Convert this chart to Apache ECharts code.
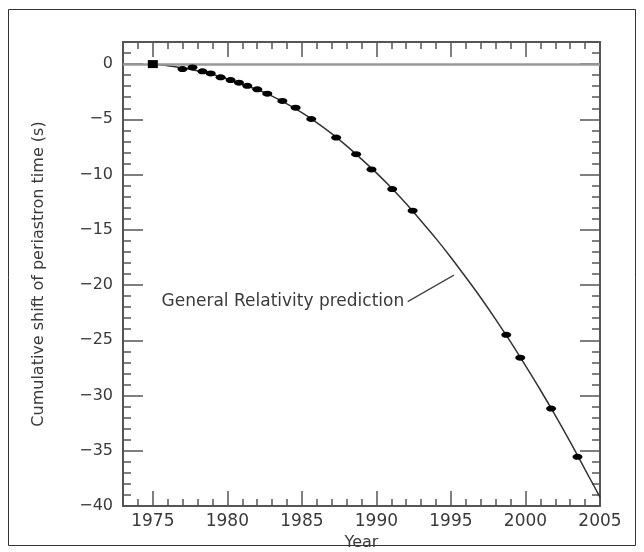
<!DOCTYPE html>
<html>
<head>
  <meta charset="UTF-8" />
  <title>Cumulative shift of periastron time</title>
  <script src="https://cdn.jsdelivr.net/npm/echarts@6/dist/echarts.min.js"></script>
  <style>
    html, body { margin: 0; padding: 0; background: #fff; }
    #chart { width: 644px; height: 552px; }
  </style>
</head>
<body>
  <div id="chart"></div>

  <script>
    // observed points (year, shift in s)
    const obsYears = [1975.0, 1976.99, 1977.66, 1978.33, 1978.88, 1979.55, 1980.22, 1980.78, 1981.34,
                      1982.01, 1982.68, 1983.69, 1984.58, 1985.63, 1987.30, 1988.64, 1989.67, 1991.06,
                      1992.43, 1998.71, 1999.65, 2001.72, 2003.49];
    const obsShift = [0.0, -0.45, -0.3, -0.65, -0.85, -1.2, -1.45, -1.68, -1.97,
                      -2.28, -2.68, -3.34, -3.95, -4.97, -6.65, -8.15, -9.54, -11.31,
                      -13.27, -24.5, -26.57, -31.18, -35.55];

    // General Relativity prediction curve, read at each year
    const curveYears = [1975, 1976, 1977, 1978, 1979, 1980, 1981, 1982, 1983, 1984, 1985, 1986, 1987, 1988,
                        1989, 1990, 1991, 1992, 1993, 1994, 1995, 1996, 1997, 1998, 1999, 2000, 2001, 2002,
                        2003, 2004, 2005];
    const curveShift = [0, -0.15, -0.35, -0.6, -0.95, -1.35, -1.85, -2.3, -2.9, -3.6, -4.4, -5.3, -6.3, -7.4,
                        -8.6, -9.85, -11.2, -12.65, -14.2, -15.8, -17.5, -19.3, -21.15, -23.1, -25.15, -27.3,
                        -29.5, -31.8, -34.2, -36.7, -39.2];

    // tick positions
    const xMajor = [1975, 1980, 1985, 1990, 1995, 2000, 2005];
    const xMinor = [];
    for (let y = 1974; y <= 2004; y++) xMinor.push(y);
    const yMajor = [0, -5, -10, -15, -20, -25, -30, -35, -40];
    const yMinor = [];
    for (let v = 1; v >= -39; v--) yMinor.push(v);

    const labelText = 'General Relativity prediction';

    const chart = echarts.init(document.getElementById('chart'));

    const axisColor = '#555';
    const textColor = '#3a3a3a';
    const font = 'DejaVu Sans';

    function xAx(pos, ticks, len, withLine, withLabel) {
      return {
        type: 'value', position: pos, min: 1973, max: 2005, gridIndex: 0,
        axisLine: { show: withLine, onZero: false, lineStyle: { color: axisColor, width: 2 } },
        axisTick: { show: true, inside: true, length: len, customValues: ticks, lineStyle: { color: axisColor, width: 1.5 } },
        axisLabel: withLabel ? {
          show: true, customValues: xMajor, margin: 7, color: textColor, fontFamily: font, fontSize: 17,
          formatter: v => String(v)
        } : { show: false },
        splitLine: { show: false },
        name: withLabel ? 'Year' : '',
        nameLocation: 'middle', nameGap: 22,
        nameTextStyle: { color: textColor, fontFamily: font, fontSize: 16 }
      };
    }

    function yAx(pos, ticks, len, withLine, withLabel) {
      return {
        type: 'value', position: pos, min: -40, max: 2, gridIndex: 0,
        axisLine: { show: withLine, onZero: false, lineStyle: { color: axisColor, width: 2 } },
        axisTick: { show: true, inside: true, length: len, customValues: ticks, lineStyle: { color: axisColor, width: 1.5 } },
        axisLabel: withLabel ? {
          show: true, customValues: yMajor, margin: 10, color: textColor, fontFamily: font, fontSize: 16,
          formatter: v => (v < 0 ? '\u2212' + Math.abs(v) : String(v))
        } : { show: false },
        splitLine: { show: false },
        name: withLabel ? 'Cumulative shift of periastron time (s)' : '',
        nameLocation: 'middle', nameGap: 76, nameRotate: 90,
        nameTextStyle: { color: textColor, fontFamily: font, fontSize: 16 }
      };
    }

    chart.setOption({
      animation: false,
      backgroundColor: '#fff',
      grid: { left: 123, right: 44, top: 42, bottom: 46, outerBoundsMode: 'none' },
      xAxis: [
        xAx('bottom', xMajor, 15, true, true),
        xAx('bottom', xMinor, 7, false, false),
        xAx('top', xMajor, 15, true, false),
        xAx('top', xMinor, 7, false, false)
      ],
      yAxis: [
        yAx('left', yMajor, 20, true, true),
        yAx('left', yMinor, 8, false, false),
        yAx('right', yMajor, 20, true, false),
        yAx('right', yMinor, 8, false, false)
      ],
      series: [
        {
          name: 'GR prediction',
          type: 'line',
          xAxisIndex: 0, yAxisIndex: 0,
          data: curveYears.map((y, i) => [y, curveShift[i]]),
          showSymbol: false,
          smooth: 0.3,
          lineStyle: { color: '#333', width: 1.5 },
          markLine: {
            silent: true, symbol: 'none', label: { show: false },
            lineStyle: { color: '#999', width: 2.5, type: 'solid' },
            data: [{ yAxis: 0 }]
          },
          z: 3
        },
        {
          name: 'pointer',
          type: 'line',
          xAxisIndex: 0, yAxisIndex: 0,
          data: [[1992.1, -21.5], [1995.2, -19.1]],
          showSymbol: false,
          lineStyle: { color: '#444', width: 1.2 },
          z: 3
        },
        {
          name: 'observed',
          type: 'scatter',
          xAxisIndex: 0, yAxisIndex: 0,
          data: obsYears.map((y, i) => [y, obsShift[i]]),
          symbol: (val, p) => (p.dataIndex === 0 ? 'rect' : 'circle'),
          symbolSize: (val, p) => (p.dataIndex === 0 ? [10, 8] : [10, 6]),
          itemStyle: { color: '#000', opacity: 1 },
          z: 5
        }
      ]
    });

    // annotation text placed at its data position
    const anchor = chart.convertToPixel({ xAxisIndex: 0, yAxisIndex: 0 }, [1992.0, -21.5]);
    chart.setOption({
      graphic: [
        {
          type: 'text', x: anchor[0] - 2, y: anchor[1],
          style: {
            text: labelText, fill: textColor, font: '17px "DejaVu Sans"',
            textAlign: 'right', textVerticalAlign: 'middle'
          }
        },
        {
          type: 'rect', shape: { x: 8.5, y: 9.5, width: 627, height: 536 },
          style: { fill: 'none', stroke: '#333', lineWidth: 1 }
        }
      ]
    });
  </script>
</body>
</html>
